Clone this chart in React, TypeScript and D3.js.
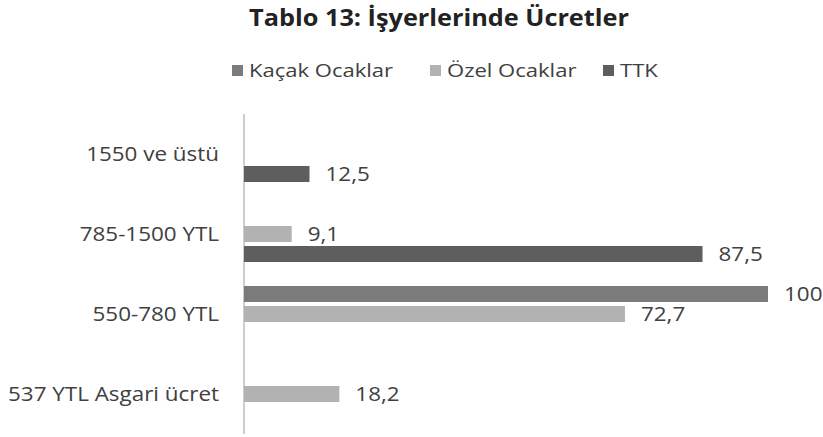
import React from "react";
import { scaleBand, scaleLinear } from "d3";

const categories = ["1550 ve üstü", "785-1500 YTL", "550-780 YTL", "537 YTL Asgari ücret"];
const seriesNames = ["Kaçak Ocaklar", "Özel Ocaklar", "TTK"];
const kacakOcaklar = [0, 0, 100, 0];
const ozelOcaklar = [0, 9.1, 72.7, 18.2];
const ttk = [12.5, 87.5, 0, 0];
const seriesColors = ["#7b7b7b", "#b2b2b2", "#5e5e5e"];

const W = 823;
const H = 437;
const font = "'Open Sans', Lato, sans-serif";

function fmt(v: number) {
  return String(v).replace(".", ",");
}

// the source image is a bit wider than tall, so text glyphs get a small horizontal stretch
function WideText({ x, y, sx, children, ...rest }: any) {
  return (
    <g transform={`translate(${x},${y}) scale(${sx},1)`}>
      <text {...rest}>{children}</text>
    </g>
  );
}

export default function App() {
  const values = [kacakOcaklar, ozelOcaklar, ttk];
  const y = scaleBand().domain(categories).range([114, 434]);
  const inner = scaleBand()
    .domain(seriesNames)
    .range([10, 70])
    .paddingInner(0.2)
    .paddingOuter(0.1);
  const x = scaleLinear().domain([0, 100]).range([244, 768]);

  const legendX = [232, 430, 603];

  return (
    <svg
      width={W}
      height={H}
      style={{ position: "absolute", left: 0, top: 0, background: "#fff" }}
      fontFamily={font}
    >
      <WideText x={439} y={26} sx={1.1} textAnchor="middle" fontSize={23} fontWeight="bold" fill="#222">
        Tablo 13: İşyerlerinde Ücretler
      </WideText>

      {seriesNames.map((s, i) => (
        <g key={s} transform={`translate(${legendX[i]},0)`}>
          <rect x={0} y={65} width={11} height={11} fill={seriesColors[i]} />
          <WideText x={17} y={77} sx={1.16} fontSize={19} fill="#404040">
            {s}
          </WideText>
        </g>
      ))}

      <line x1={x(0)} x2={x(0)} y1={114} y2={434} stroke="#bdbdbd" strokeWidth={1.5} />

      {categories.map((c) => (
        <WideText
          key={c}
          x={219}
          y={(y(c) ?? 0) + y.bandwidth() / 2}
          sx={1.15}
          dy="0.35em"
          textAnchor="end"
          fontSize={19.5}
          fill="#404040"
        >
          {c}
        </WideText>
      ))}

      {seriesNames.map((s, si) =>
        categories.map((c, ci) => {
          const v = values[si][ci];
          if (!v) return null;
          const by = (y(c) ?? 0) + (inner(s) ?? 0);
          return (
            <g key={s + c}>
              <rect
                x={x(0)}
                y={by}
                width={x(v) - x(0)}
                height={inner.bandwidth()}
                fill={seriesColors[si]}
              />
              <WideText
                x={x(v) + 16}
                y={by + inner.bandwidth() / 2}
                sx={1.15}
                dy="0.35em"
                fontSize={19.5}
                fill="#404040"
              >
                {fmt(v)}
              </WideText>
            </g>
          );
        })
      )}
    </svg>
  );
}
